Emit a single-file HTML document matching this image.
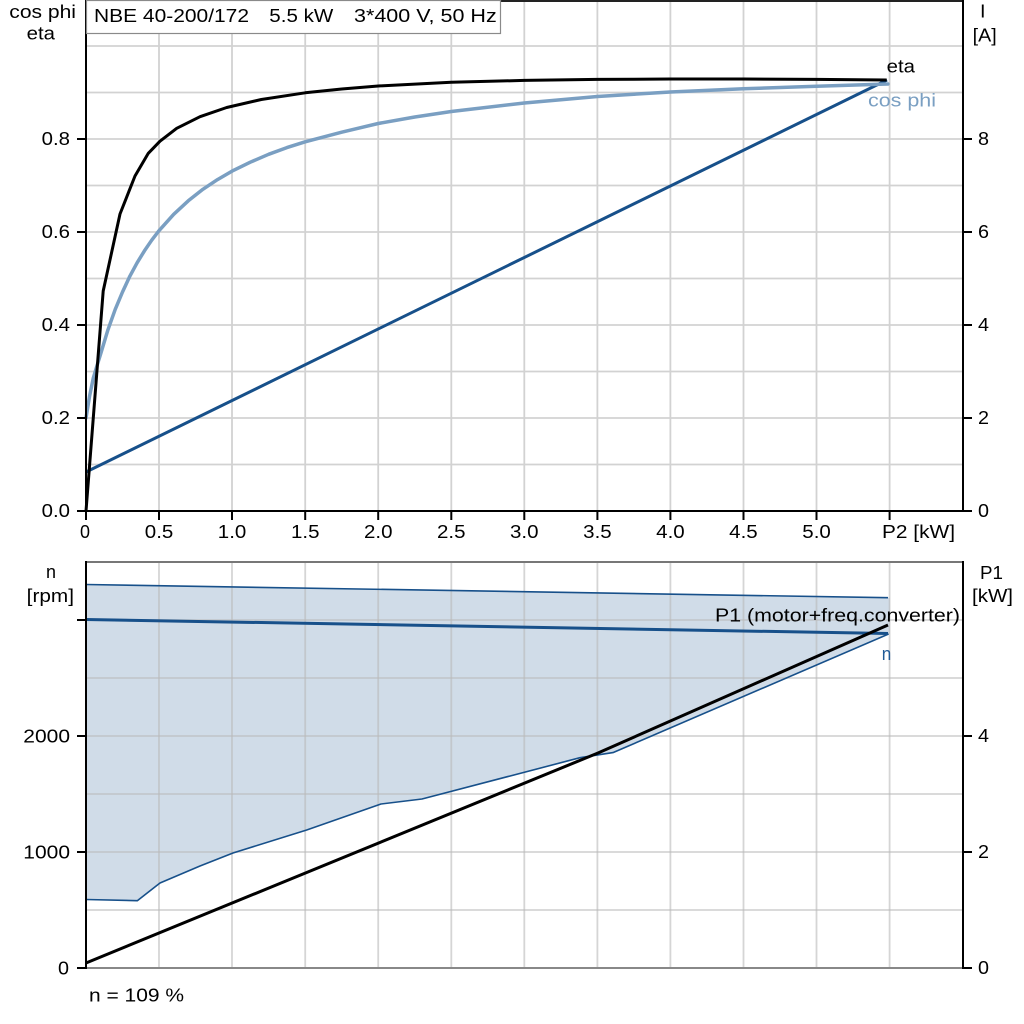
<!DOCTYPE html>
<html>
<head>
<meta charset="utf-8">
<style>
html,body{margin:0;padding:0;background:#fff;}
svg{display:block;}
text{font-family:"Liberation Sans",Arial,sans-serif;font-size:18.5px;fill:#000;}
</style>
</head>
<body>
<svg width="1024" height="1024" viewBox="0 0 1024 1024" xmlns="http://www.w3.org/2000/svg">
<rect x="0" y="0" width="1024" height="1024" fill="#fff"/>

<!-- ============ TOP PLOT ============ -->
<g stroke="#d2d2d2" stroke-width="1.8" fill="none">
  <line x1="159" y1="0" x2="159" y2="511"/>
  <line x1="232" y1="0" x2="232" y2="511"/>
  <line x1="305.2" y1="0" x2="305.2" y2="511"/>
  <line x1="378.2" y1="0" x2="378.2" y2="511"/>
  <line x1="451.3" y1="0" x2="451.3" y2="511"/>
  <line x1="524.3" y1="0" x2="524.3" y2="511"/>
  <line x1="597.4" y1="0" x2="597.4" y2="511"/>
  <line x1="670.4" y1="0" x2="670.4" y2="511"/>
  <line x1="743.5" y1="0" x2="743.5" y2="511"/>
  <line x1="816.5" y1="0" x2="816.5" y2="511"/>
  <line x1="889.6" y1="0" x2="889.6" y2="511"/>
  <line x1="86" y1="464.5" x2="963" y2="464.5"/>
  <line x1="86" y1="418" x2="963" y2="418"/>
  <line x1="86" y1="371.5" x2="963" y2="371.5"/>
  <line x1="86" y1="325" x2="963" y2="325"/>
  <line x1="86" y1="278.5" x2="963" y2="278.5"/>
  <line x1="86" y1="232" x2="963" y2="232"/>
  <line x1="86" y1="185.5" x2="963" y2="185.5"/>
  <line x1="86" y1="139" x2="963" y2="139"/>
  <line x1="86" y1="92.5" x2="963" y2="92.5"/>
  <line x1="86" y1="46" x2="963" y2="46"/>
</g>

<!-- curves -->
<polyline fill="none" stroke="#17508a" stroke-width="3" stroke-linejoin="round" points="86,472 887,80"/>
<polyline fill="none" stroke="#7a9fc2" stroke-width="3.5" stroke-linejoin="round" stroke-linecap="round"
 points="86,418 89.6,396 93.3,378 96.9,366 100.6,354.1 107.9,329.9 115.2,309.4 122.5,292 129.8,276.3 137.1,262.8 144.4,250.9 151.7,240.2 159,230.7 173.7,214.3 188.3,200.8 202.9,189.3 217.5,179.6 232.1,171.1 250.3,162.2 268.6,154.3 286.9,147.6 305.2,141.8 341.7,132.2 378.2,123.5 414.8,117 451.3,111.5 524.3,103 597.4,96.5 670.4,92 743.5,88.8 816.5,86.2 888,84"/>
<polyline fill="none" stroke="#000" stroke-width="3" stroke-linejoin="round"
 points="86,511 103.2,291 120,214 135,176 148.3,153.3 160,141.2 176.7,128.3 200,116.7 226.7,107.5 261.3,99.5 305.2,92.8 341.7,89 378.2,86 451.3,82.3 524.3,80.4 597.4,79.4 670.4,79 743.5,79.05 816.5,79.4 886.7,80"/>

<!-- axes -->
<line x1="86" y1="1" x2="963" y2="1" stroke="#222" stroke-width="2"/>
<line x1="86" y1="0" x2="86" y2="512" stroke="#000" stroke-width="2"/>
<line x1="963" y1="0" x2="963" y2="512" stroke="#000" stroke-width="2"/>
<line x1="85" y1="511" x2="964" y2="511" stroke="#000" stroke-width="2"/>

<g stroke="#000" stroke-width="2">
  <line x1="77" y1="511" x2="86" y2="511"/>
  <line x1="77" y1="418" x2="86" y2="418"/>
  <line x1="77" y1="325" x2="86" y2="325"/>
  <line x1="77" y1="232" x2="86" y2="232"/>
  <line x1="77" y1="139" x2="86" y2="139"/>
  <line x1="963" y1="511" x2="972" y2="511"/>
  <line x1="963" y1="418" x2="972" y2="418"/>
  <line x1="963" y1="325" x2="972" y2="325"/>
  <line x1="963" y1="232" x2="972" y2="232"/>
  <line x1="963" y1="139" x2="972" y2="139"/>
  <line x1="86" y1="511" x2="86" y2="520"/>
  <line x1="159" y1="511" x2="159" y2="520"/>
  <line x1="232" y1="511" x2="232" y2="520"/>
  <line x1="305.2" y1="511" x2="305.2" y2="520"/>
  <line x1="378.2" y1="511" x2="378.2" y2="520"/>
  <line x1="451.3" y1="511" x2="451.3" y2="520"/>
  <line x1="524.3" y1="511" x2="524.3" y2="520"/>
  <line x1="597.4" y1="511" x2="597.4" y2="520"/>
  <line x1="670.4" y1="511" x2="670.4" y2="520"/>
  <line x1="743.5" y1="511" x2="743.5" y2="520"/>
  <line x1="816.5" y1="511" x2="816.5" y2="520"/>
  <line x1="889.6" y1="511" x2="889.6" y2="520"/>
</g>

<!-- title box -->
<rect x="86.5" y="0.5" width="414" height="33" fill="#fff" stroke="#8a8a8a" stroke-width="1.2"/>
<text x="94" y="22" textLength="155" lengthAdjust="spacingAndGlyphs">NBE 40-200/172</text>
<text x="269.3" y="22" textLength="64" lengthAdjust="spacingAndGlyphs">5.5 kW</text>
<text x="354" y="22" textLength="142.7" lengthAdjust="spacingAndGlyphs">3*400 V, 50 Hz</text>

<text x="9.3" y="18" textLength="66.7" lengthAdjust="spacingAndGlyphs">cos phi</text>
<text x="26.7" y="39.5" textLength="28.3" lengthAdjust="spacingAndGlyphs">eta</text>
<text x="980" y="17.3" textLength="5.5" lengthAdjust="spacingAndGlyphs">I</text>
<text x="972.7" y="41.5" textLength="24" lengthAdjust="spacingAndGlyphs">[A]</text>

<text x="41.7" y="145" textLength="28.3" lengthAdjust="spacingAndGlyphs">0.8</text>
<text x="41.7" y="238" textLength="28.3" lengthAdjust="spacingAndGlyphs">0.6</text>
<text x="41.7" y="331" textLength="28.3" lengthAdjust="spacingAndGlyphs">0.4</text>
<text x="41.7" y="424" textLength="28.3" lengthAdjust="spacingAndGlyphs">0.2</text>
<text x="41.7" y="517" textLength="28.3" lengthAdjust="spacingAndGlyphs">0.0</text>
<text x="978" y="145" textLength="11" lengthAdjust="spacingAndGlyphs">8</text>
<text x="978" y="238" textLength="11" lengthAdjust="spacingAndGlyphs">6</text>
<text x="978" y="331" textLength="11" lengthAdjust="spacingAndGlyphs">4</text>
<text x="978" y="424" textLength="11" lengthAdjust="spacingAndGlyphs">2</text>
<text x="978" y="517" textLength="11" lengthAdjust="spacingAndGlyphs">0</text>
<text x="80" y="538" textLength="10" lengthAdjust="spacingAndGlyphs">0</text>
<text x="144.8" y="538" textLength="28.5" lengthAdjust="spacingAndGlyphs">0.5</text>
<text x="217.8" y="538" textLength="28.5" lengthAdjust="spacingAndGlyphs">1.0</text>
<text x="291" y="538" textLength="28.5" lengthAdjust="spacingAndGlyphs">1.5</text>
<text x="364" y="538" textLength="28.5" lengthAdjust="spacingAndGlyphs">2.0</text>
<text x="437" y="538" textLength="28.5" lengthAdjust="spacingAndGlyphs">2.5</text>
<text x="510" y="538" textLength="28.5" lengthAdjust="spacingAndGlyphs">3.0</text>
<text x="583.2" y="538" textLength="28.5" lengthAdjust="spacingAndGlyphs">3.5</text>
<text x="656.2" y="538" textLength="28.5" lengthAdjust="spacingAndGlyphs">4.0</text>
<text x="729.2" y="538" textLength="28.5" lengthAdjust="spacingAndGlyphs">4.5</text>
<text x="802.3" y="538" textLength="28.5" lengthAdjust="spacingAndGlyphs">5.0</text>
<text x="882" y="538" textLength="73" lengthAdjust="spacingAndGlyphs">P2 [kW]</text>

<text x="886.7" y="72.5" textLength="28.3" lengthAdjust="spacingAndGlyphs">eta</text>
<text x="868" y="106.5" textLength="68" lengthAdjust="spacingAndGlyphs" style="fill:#7a9fc2">cos phi</text>

<!-- ============ BOTTOM PLOT ============ -->
<polygon fill="#d0dce8" stroke="none"
 points="86,584.5 888,597.7 890,597.7 890,634 888.6,634 613,752.6 580,757.7 422,799 381,804 306.7,830 233,853 200,866 160,883 137.3,900.7 86,899.5"/>
<g stroke="#b9b9b9" stroke-opacity="0.6" stroke-width="1.8" fill="none">
  <line x1="159" y1="562" x2="159" y2="968"/>
  <line x1="232" y1="562" x2="232" y2="968"/>
  <line x1="305.2" y1="562" x2="305.2" y2="968"/>
  <line x1="378.2" y1="562" x2="378.2" y2="968"/>
  <line x1="451.3" y1="562" x2="451.3" y2="968"/>
  <line x1="524.3" y1="562" x2="524.3" y2="968"/>
  <line x1="597.4" y1="562" x2="597.4" y2="968"/>
  <line x1="670.4" y1="562" x2="670.4" y2="968"/>
  <line x1="743.5" y1="562" x2="743.5" y2="968"/>
  <line x1="816.5" y1="562" x2="816.5" y2="968"/>
  <line x1="889.6" y1="562" x2="889.6" y2="968"/>
  <line x1="86" y1="910" x2="963" y2="910"/>
  <line x1="86" y1="852" x2="963" y2="852"/>
  <line x1="86" y1="794" x2="963" y2="794"/>
  <line x1="86" y1="736" x2="963" y2="736"/>
  <line x1="86" y1="678" x2="963" y2="678"/>
  <line x1="86" y1="620" x2="963" y2="620"/>
</g>

<polyline fill="none" stroke="#17508a" stroke-width="1.6" points="86,584.5 888,597.7"/>
<polyline fill="none" stroke="#17508a" stroke-width="1.6" stroke-linejoin="round"
 points="86,899.5 137.3,900.7 160,883 200,866 233,853 306.7,830 381,804 422,799 580,757.7 613,752.6 888.6,634"/>
<polyline fill="none" stroke="#17508a" stroke-width="3" points="86,619.5 888,633.5"/>
<polyline fill="none" stroke="#000" stroke-width="3" stroke-linejoin="round" points="86,963 598,753 888,625"/>

<line x1="86" y1="562" x2="963" y2="562" stroke="#777" stroke-width="2"/>
<line x1="86" y1="968" x2="963" y2="968" stroke="#888" stroke-width="2"/>
<line x1="86" y1="561" x2="86" y2="969" stroke="#000" stroke-width="2"/>
<line x1="963" y1="561" x2="963" y2="969" stroke="#000" stroke-width="2"/>

<g stroke="#000" stroke-width="2">
  <line x1="77" y1="968" x2="86" y2="968"/>
  <line x1="77" y1="852" x2="86" y2="852"/>
  <line x1="77" y1="736" x2="86" y2="736"/>
  <line x1="77" y1="620" x2="86" y2="620"/>
  <line x1="963" y1="968" x2="972" y2="968"/>
  <line x1="963" y1="852" x2="972" y2="852"/>
  <line x1="963" y1="736" x2="972" y2="736"/>
</g>

<text x="46" y="578" textLength="10" lengthAdjust="spacingAndGlyphs">n</text>
<text x="26.7" y="602" textLength="47.3" lengthAdjust="spacingAndGlyphs">[rpm]</text>
<text x="23.3" y="742.3" textLength="46.7" lengthAdjust="spacingAndGlyphs">2000</text>
<text x="23.3" y="858.3" textLength="46.7" lengthAdjust="spacingAndGlyphs">1000</text>
<text x="58" y="974.3" textLength="11" lengthAdjust="spacingAndGlyphs">0</text>

<text x="980" y="579" textLength="23" lengthAdjust="spacingAndGlyphs">P1</text>
<text x="972" y="602" textLength="41" lengthAdjust="spacingAndGlyphs">[kW]</text>
<text x="978" y="742" textLength="11" lengthAdjust="spacingAndGlyphs">4</text>
<text x="978" y="858" textLength="11" lengthAdjust="spacingAndGlyphs">2</text>
<text x="978" y="974" textLength="11" lengthAdjust="spacingAndGlyphs">0</text>

<text x="715" y="621.7" textLength="245" lengthAdjust="spacingAndGlyphs">P1 (motor+freq.converter)</text>
<text x="881.7" y="660" textLength="9.5" lengthAdjust="spacingAndGlyphs" style="fill:#1f5a96">n</text>
<text x="89" y="1001.5" textLength="95" lengthAdjust="spacingAndGlyphs">n = 109 %</text>
</svg>
</body>
</html>
